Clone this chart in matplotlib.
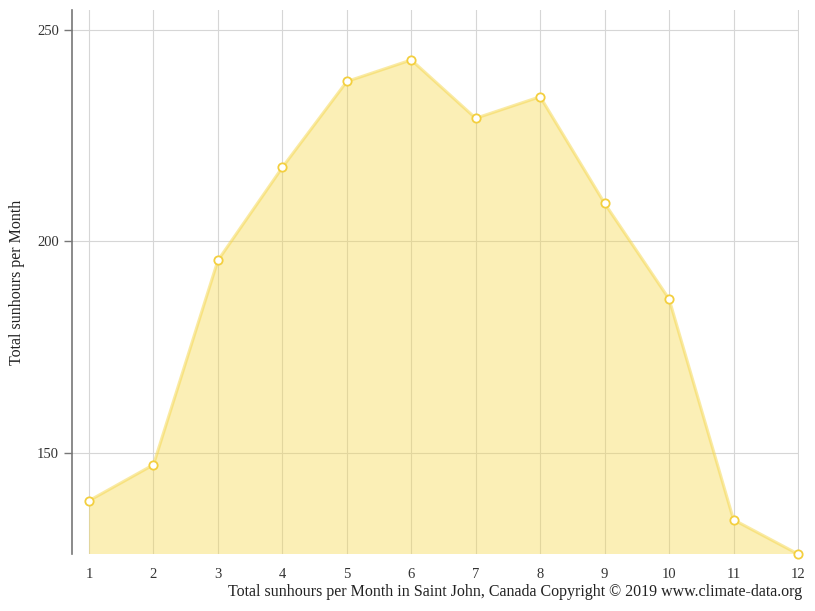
import matplotlib
matplotlib.use("Agg")
import matplotlib.pyplot as plt

months = [1, 2, 3, 4, 5, 6, 7, 8, 9, 10, 11, 12]
sunhours = [138.7, 147.2, 195.5, 217.5, 237.8, 242.9, 229.1, 234.2, 209.0, 186.4, 134.2, 126.1]
y_ticks = [150, 200, 250]
x_label = "Total sunhours per Month in Saint John, Canada Copyright © 2019 www.climate-data.org"
y_label = "Total sunhours per Month"

plt.rcParams['font.family'] = ['Liberation Serif', 'DejaVu Serif']

fig = plt.figure(figsize=(8.15, 6.11), dpi=100)
ax = fig.add_axes([72/815, (611-554)/611, (799-72)/815, (554-10)/611])

ax.fill_between(months, sunhours, 0, color='#f5d84a', alpha=0.4, linewidth=0, zorder=2)
ax.plot(months, sunhours, color='#f5d64a', alpha=0.5, linewidth=2.2, zorder=3)
ax.plot(months, sunhours, linestyle='none', marker='o', markersize=6, clip_on=False,
        markerfacecolor='white', markeredgecolor='#f3cf3f', markeredgewidth=1.3, zorder=4)

ax.set_xlim(0.736, 12.016)
ax.set_ylim(126.1, 254.7)
ax.set_xticks(months)
ax.set_yticks(y_ticks)
ax.grid(True, color='#d6d6d6', linewidth=0.8, zorder=1)
ax.set_axisbelow(True)

for s in ['top', 'right', 'bottom']:
    ax.spines[s].set_visible(False)
ax.spines['left'].set_color('#777777')
ax.spines['left'].set_linewidth(1.2)

ax.tick_params(axis='x', length=0, pad=10, labelsize=10.5, labelcolor='#333333')
ax.tick_params(axis='y', length=6, width=1, color='#777777', labelsize=10.5, labelcolor='#333333')

fig.text(802/815, 1 - 592/611, x_label, ha='right', va='center', fontsize=11.5, color='#222222')
fig.text(17/815, 1 - 282/611, y_label, ha='center', va='center', rotation=90, fontsize=11.5, color='#222222')

fig.savefig('out.png', dpi=100)
